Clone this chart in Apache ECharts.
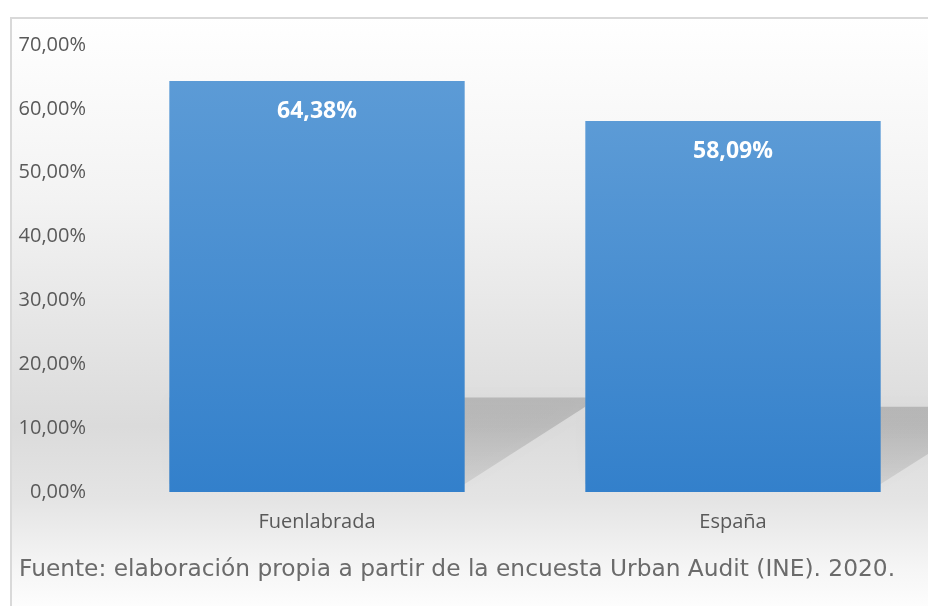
<!DOCTYPE html>
<html>
<head>
<meta charset="utf-8">
<script src="https://cdn.jsdelivr.net/npm/echarts@6/dist/echarts.min.js"></script>
<style>
  html, body { margin: 0; padding: 0; background: #ffffff; }
  #chart { width: 928px; height: 606px; }
</style>
</head>
<body>
<div id="chart"></div>
<script>
// datos
var categorias = ['Fuenlabrada', 'España'];
var valores = [64.38, 58.09];
var ticksY = [0, 10, 20, 30, 40, 50, 60, 70];
var fuente = 'Fuente: elaboración propia a partir de la encuesta Urban Audit (INE). 2020.';

function pct(v) {
    return v.toFixed(2).replace('.', ',') + '%';
}

var chart = echarts.init(document.getElementById('chart'));

var option = {
    backgroundColor: '#ffffff',
    animation: false,
    graphic: [
        {
            type: 'rect',
            z: -10,
            shape: { x: 11, y: 18, width: 940, height: 600 },
            style: {
                fill: new echarts.graphic.LinearGradient(0, 0, 0, 1, [
                    { offset: 0, color: '#ffffff' },
                    { offset: 0.3, color: '#f3f3f3' },
                    { offset: 0.68, color: '#dbdbdb' },
                    { offset: 0.8, color: '#e4e4e4' },
                    { offset: 0.92, color: '#f6f6f6' },
                    { offset: 1, color: '#ffffff' }
                ]),
                stroke: '#d9d9d9',
                lineWidth: 2
            }
        }
    ],
    title: {
        text: fuente,
        left: 14,
        top: 553,
        textStyle: {
            fontFamily: 'DejaVu Sans',
            fontWeight: 'normal',
            fontSize: 23.3,
            color: '#6b6b6b'
        }
    },
    grid: {
        left: 109,
        right: -13,
        top: 45,
        bottom: 114,
        outerBoundsMode: 'none'
    },
    xAxis: {
        type: 'category',
        data: categorias,
        axisLine: { show: false },
        axisTick: { show: false },
        axisLabel: {
            margin: 20,
            fontFamily: 'Open Sans',
            fontSize: 20,
            color: '#595959'
        }
    },
    yAxis: {
        type: 'value',
        min: 0,
        max: 70,
        interval: 10,
        splitLine: { show: false },
        axisLine: { show: false },
        axisTick: { show: false },
        axisLabel: {
            margin: 23,
            fontFamily: 'Open Sans',
            fontSize: 20,
            color: '#595959',
            formatter: function (v) { return ticksY.indexOf(v) >= 0 ? pct(v) : ''; }
        }
    },
    series: [
        {
            // sombra en perspectiva detras de las barras
            type: 'custom',
            z: 1,
            silent: true,
            data: valores.map(function (v, i) { return [i, v]; }),
            renderItem: function (params, api) {
                var idx = api.value(0);
                var base = api.coord([idx, 0]);
                var top = api.coord([idx, api.value(1) * 0.23]);
                var bw = api.size([1, 0])[0] * 0.71;
                var left = base[0] - bw / 2;
                var right = base[0] + bw / 2;
                var dx = (base[1] - top[1]) / 0.7;
                return {
                    type: 'polygon',
                    shape: {
                        points: [
                            [left, base[1] - 8],
                            [left, top[1]],
                            [right + dx, top[1]],
                            [right, base[1] - 8]
                        ]
                    },
                    style: {
                        fill: new echarts.graphic.LinearGradient(0, 0, 0, 1, [
                            { offset: 0, color: 'rgba(0,0,0,0.17)' },
                            { offset: 1, color: 'rgba(0,0,0,0.08)' }
                        ]),
                        shadowBlur: 18,
                        shadowColor: 'rgba(0,0,0,0.12)'
                    }
                };
            }
        },
        {
            type: 'bar',
            z: 2,
            data: valores,
            barWidth: '71%',
            itemStyle: {
                color: new echarts.graphic.LinearGradient(0, 0, 0, 1, [
                    { offset: 0, color: '#5c9bd6' },
                    { offset: 1, color: '#3380cb' }
                ])
            },
            label: {
                show: true,
                position: 'insideTop',
                distance: 19,
                fontFamily: 'Open Sans',
                fontWeight: 'bold',
                fontSize: 23,
                color: '#ffffff',
                formatter: function (p) { return pct(p.value); }
            }
        }
    ]
};

chart.setOption(option);
</script>
</body>
</html>
